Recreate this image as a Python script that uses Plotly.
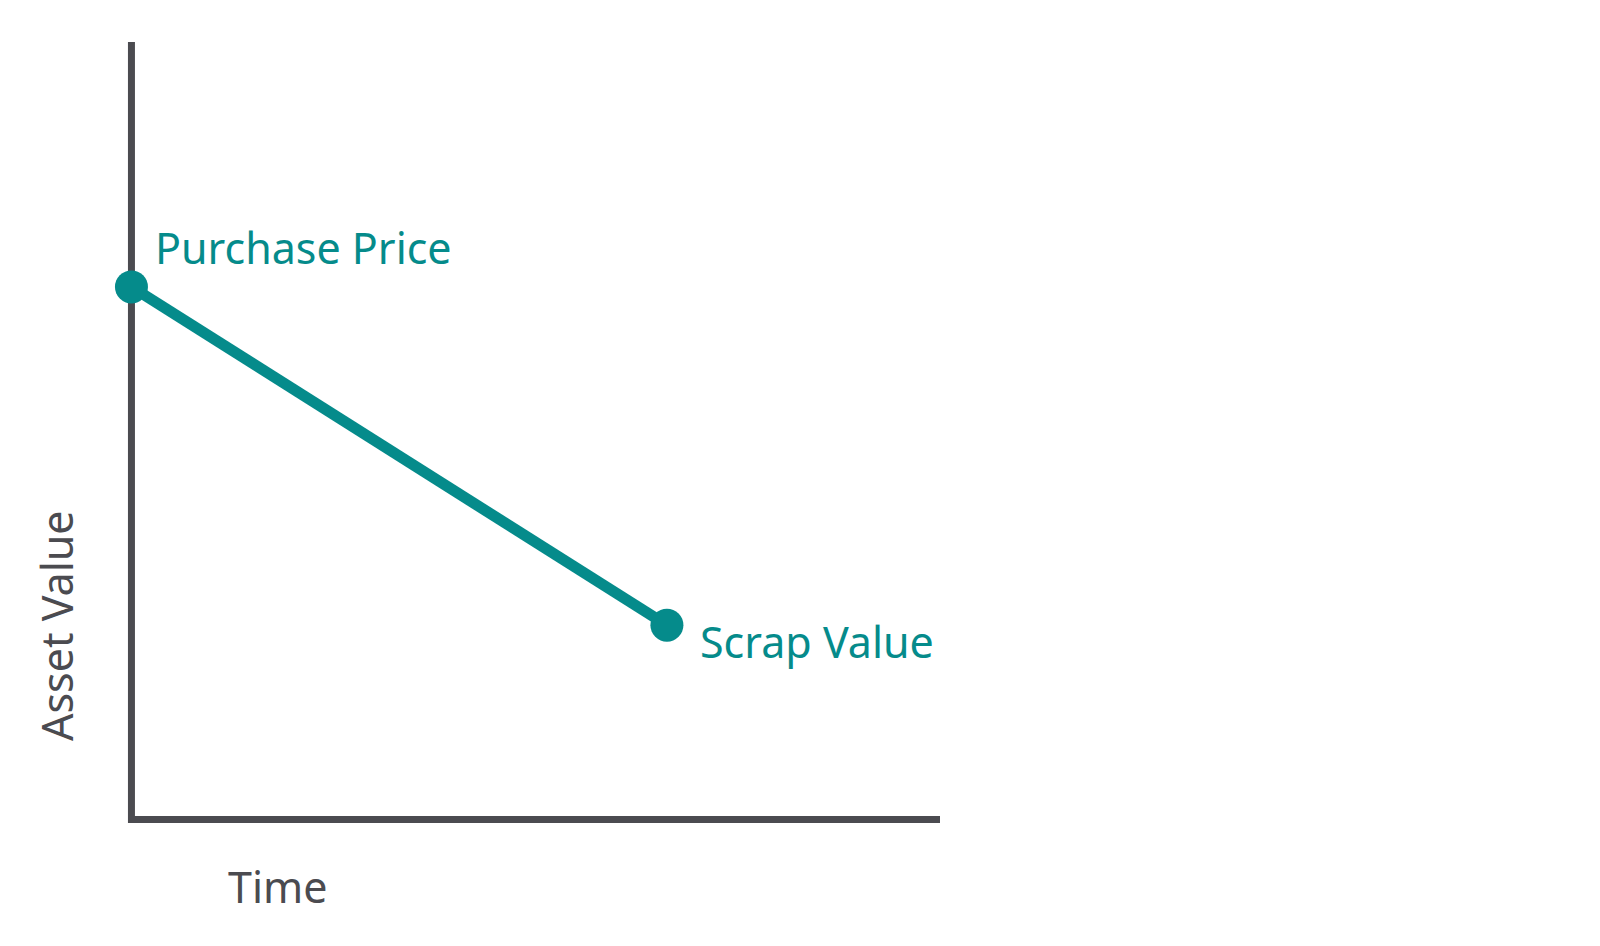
import plotly.graph_objects as go

W, H = 1600, 946
OFF = 8  # page body margin in the browser

# Data
time = [0, 10]
asset_value = [68.5, 25]
point_labels = ["Purchase Price", "Scrap Value"]
x_title = "Time"
y_title = "Asset Value"
x_range = [-0.1, 15.1]
y_range = [-0.6, 100]

TEAL = "#058b8b"
GRAY = "#4b4b50"
FONT = "Noto Sans"

# plot area in page pixels (x: 53.54 px/unit, y: 7.775 px/unit)
x0, x1 = 126.1 - OFF, 940 - OFF
y0, y1 = 824.2 - OFF, 42 - OFF

fig = go.Figure()
# axes drawn as one path with a square corner at the origin
fig.add_shape(type="path",
              path=f"M 0,{y_range[1]} L 0,0 L {x_range[1]},0",
              xref="x", yref="y", line=dict(color=GRAY, width=7), layer="below")

fig.add_trace(go.Scatter(
    x=time, y=asset_value, mode="lines+markers",
    line=dict(color=TEAL, width=11),
    marker=dict(color=TEAL, size=33),
    cliponaxis=False, hoverinfo="skip", showlegend=False,
))

fig.add_annotation(x=time[0], y=asset_value[0], text=point_labels[0],
                   xref="x", yref="y", showarrow=False, xanchor="left", yanchor="middle",
                   xshift=22, yshift=39, font=dict(family=FONT, size=43, color=TEAL))
fig.add_annotation(x=time[1], y=asset_value[1], text=point_labels[1],
                   xref="x", yref="y", showarrow=False, xanchor="left", yanchor="middle",
                   xshift=31, yshift=-16, font=dict(family=FONT, size=43, color=TEAL))

fig.add_annotation(x=(277 - OFF) / W, y=1 - (886 - OFF) / H, text=x_title, xref="paper", yref="paper",
                   showarrow=False, xanchor="center", yanchor="middle",
                   font=dict(family=FONT, size=43, color=GRAY))
fig.add_annotation(x=(56 - OFF) / W, y=1 - (626 - OFF) / H, text=y_title, xref="paper", yref="paper",
                   showarrow=False, xanchor="center", yanchor="middle", textangle=-90,
                   font=dict(family=FONT, size=43, color=GRAY))

fig.update_layout(
    width=W, height=H,
    margin=dict(l=0, r=0, t=0, b=0),
    paper_bgcolor="white", plot_bgcolor="white",
    xaxis=dict(domain=[x0 / W, x1 / W], range=x_range, showgrid=False, zeroline=False,
               showticklabels=False, ticks="", showline=False),
    yaxis=dict(domain=[1 - y0 / H, 1 - y1 / H], range=y_range, showgrid=False, zeroline=False,
               showticklabels=False, ticks="", showline=False),
)

fig.write_html("out.html")
